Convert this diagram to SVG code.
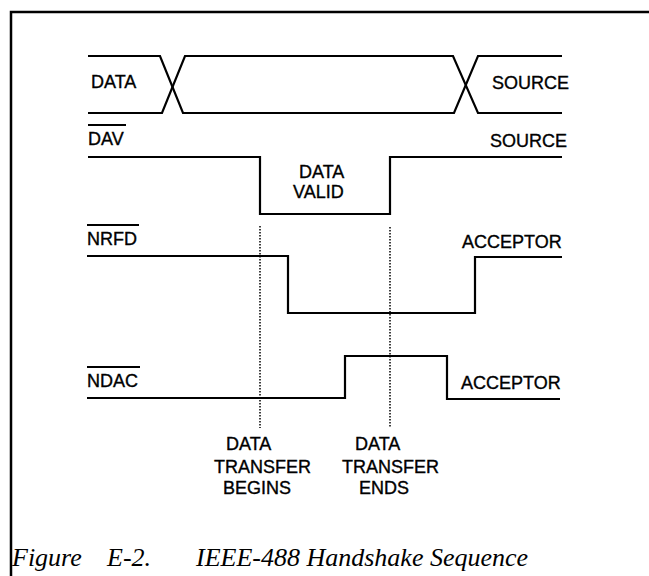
<svg xmlns="http://www.w3.org/2000/svg" width="649" height="576" viewBox="0 0 649 576">
<style>
.lbl{font-family:"Liberation Sans",Arial,sans-serif;font-size:18px;fill:#000;stroke:#000;stroke-width:0.35}
.sig{fill:none;stroke:#000;stroke-width:2.2;stroke-linejoin:miter}
.ov{stroke:#000;stroke-width:2}
.dot{fill:none;stroke:#000;stroke-width:1.5;stroke-dasharray:1.5 1.5}
.cap{font-family:"Liberation Serif","Times New Roman",serif;font-style:italic;font-size:26px;fill:#000}
</style>
<rect width="649" height="576" fill="#fff"/>
<path d="M11,576 V12 H649" fill="none" stroke="#000" stroke-width="2.5"/>
<g id="data">
<path class="sig" d="M88,56 H160 L183,113 H454 L478,56 H562"/>
<path class="sig" d="M88,113 H162 L185,56 H453 L478,113 H562"/>
<text class="lbl" x="91" y="88">DATA</text>
<text class="lbl" x="492" y="89">SOURCE</text>
</g>
<g id="dav">
<path class="sig" d="M88,157 H260 V214 H390 V157 H562"/>
<line class="ov" x1="88" y1="125" x2="126" y2="125"/>
<text class="lbl" x="88" y="145">DAV</text>
<text class="lbl" x="490" y="147">SOURCE</text>
<text class="lbl" x="299" y="178">DATA</text>
<text class="lbl" x="293" y="198">VALID</text>
</g>
<g id="nrfd">
<path class="sig" d="M87,256 H288 V313 H475 V257 H562"/>
<line class="ov" x1="87" y1="225" x2="139" y2="225"/>
<text class="lbl" x="87" y="245">NRFD</text>
<text class="lbl" x="462" y="248">ACCEPTOR</text>
</g>
<g id="ndac">
<path class="sig" d="M87,398 H345 V356 H447 V399 H560"/>
<line class="ov" x1="87" y1="367" x2="140" y2="367"/>
<text class="lbl" x="87" y="387">NDAC</text>
<text class="lbl" x="461" y="389">ACCEPTOR</text>
</g>
<g id="connectors">
<line class="dot" x1="260" y1="226" x2="260" y2="428"/>
<line class="dot" x1="390" y1="227" x2="390" y2="428"/>
</g>
<g id="begins">
<text class="lbl" x="226" y="450">DATA</text>
<text class="lbl" x="214" y="473">TRANSFER</text>
<text class="lbl" x="223" y="494">BEGINS</text>
</g>
<g id="ends">
<text class="lbl" x="355" y="450">DATA</text>
<text class="lbl" x="342" y="473">TRANSFER</text>
<text class="lbl" x="359" y="494">ENDS</text>
</g>
<g id="caption">
<text class="cap" x="12" y="566">Figure</text>
<text class="cap" x="107" y="566">E-2.</text>
<text class="cap" x="196" y="566">IEEE-488 Handshake Sequence</text>
</g>
</svg>
